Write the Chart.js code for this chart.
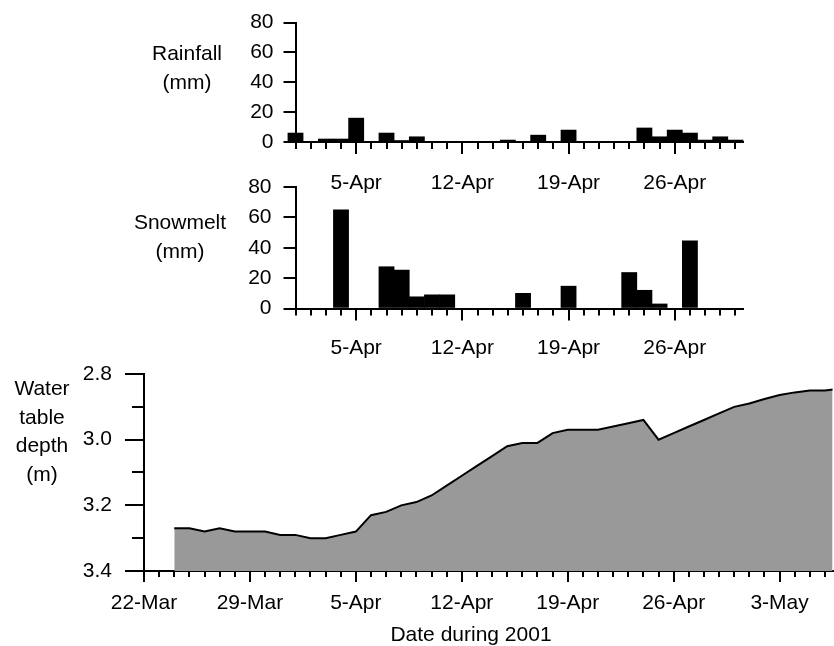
<!DOCTYPE html>
<html>
<head>
<meta charset="utf-8">
<title>Rainfall, snowmelt and water table depth</title>
<script src="https://cdn.jsdelivr.net/npm/chart.js@4.4.1/dist/chart.umd.min.js"></script>
<style>
  html, body { margin: 0; padding: 0; background: #fff; }
  #figure {
    position: relative;
    width: 834px;
    height: 646px;
    overflow: hidden;
    font-family: 'Liberation Sans', Arial, sans-serif;
    font-size: 21px;
    color: #000;
  }
  #figure canvas { position: absolute; left: 0; top: 0; }
  .axis-title {
    position: absolute;
    width: 140px;
    text-align: center;
    line-height: 28.6px;
    white-space: nowrap;
  }
</style>
</head>
<body>
<div id="figure">
  <canvas id="rainCanvas" width="834" height="646"></canvas>
  <canvas id="snowCanvas" width="834" height="646"></canvas>
  <canvas id="depthCanvas" width="834" height="646"></canvas>
  <div class="axis-title" style="left:117px; top:39px">Rainfall<br>(mm)</div>
  <div class="axis-title" style="left:110px; top:208px">Snowmelt<br>(mm)</div>
  <div class="axis-title" style="left:-28px; top:374px">Water<br>table<br>depth<br>(m)</div>
  <div class="axis-title" style="left:321px; top:620px; width:300px">Date during 2001</div>
</div>
<script>
// all days are counted from 22 March 2001 (22-Mar = 0, 1-Apr = 10)

// x-axis labels
const labelDays = [0, 7, 14, 21, 28, 35, 42];
const dateLabels = ['22-Mar', '29-Mar', '5-Apr', '12-Apr', '19-Apr', '26-Apr', '3-May'];

// daily totals 1-Apr .. 30-Apr
const precipDays = [10, 11, 12, 13, 14, 15, 16, 17, 18, 19,
                    20, 21, 22, 23, 24, 25, 26, 27, 28, 29,
                    30, 31, 32, 33, 34, 35, 36, 37, 38, 39];
const rainfall = [6, 0, 2, 2, 16, 0, 6, 1, 3.5, 0,
                  0, 0, 0, 0, 1.3, 0, 4.6, 0, 8, 0,
                  0, 0, 0, 9.4, 3.5, 8, 6, 1.3, 3.5, 1.3];
const snowmelt = [0, 0, 0, 65, 0, 0, 27.5, 25.3, 7.7, 9,
                  9, 0, 0, 0, 0, 10, 0, 0, 14.7, 0,
                  0, 0, 23.7, 12, 3, 0, 44.6, 0, 0, 0];

// water table depth (m), 24-Mar .. 7-May
const depthDays = [2, 3, 4, 5, 6, 7, 8, 9, 10, 11, 12, 13, 14, 15, 16,
                   17, 18, 19, 20, 21, 22, 23, 24, 25, 26, 27, 28, 29, 30, 31,
                   32, 33, 34, 35, 36, 37, 38, 39, 40, 41, 42, 43, 44, 45, 46];
const waterDepth = [3.27, 3.27, 3.28, 3.27, 3.28, 3.28, 3.28, 3.29, 3.29, 3.30, 3.30, 3.29, 3.28, 3.23, 3.22,
                    3.20, 3.19, 3.17, 3.14, 3.11, 3.08, 3.05, 3.02, 3.01, 3.01, 2.98, 2.97, 2.97, 2.97, 2.96,
                    2.95, 2.94, 3.00, 2.98, 2.96, 2.94, 2.92, 2.90, 2.89, 2.876, 2.864, 2.856, 2.85, 2.85, 2.845];

const PAGE_W = 834;
const PAGE_H = 646;
const X_AXIS_H = 60;

Chart.defaults.font.family = "'Liberation Sans', Arial, sans-serif";
Chart.defaults.font.size = 21;
Chart.defaults.color = '#000';

function dayLabel(value) {
  const i = labelDays.indexOf(value);
  return i >= 0 ? dateLabels[i] : '';
}

// hide the native mark of unlabelled ticks, the plugin below draws them shorter
const tickColor = (c) => (c.tick && c.tick.label === '' ? 'rgba(0,0,0,0)' : '#000');

// short tick marks for unlabelled ticks
const minorTicks = {
  id: 'minorTicks',
  afterDraw(chart) {
    const ctx = chart.ctx;
    ctx.save();
    ctx.strokeStyle = '#000';
    ctx.lineWidth = 2;
    Object.values(chart.scales).forEach(scale => {
      const len = scale.options.minorTickLength;
      if (!len) return;
      scale.ticks.forEach(tick => {
        if (tick.label !== '') return;
        const p = Math.round(scale.getPixelForValue(tick.value));
        ctx.beginPath();
        if (scale.isHorizontal()) {
          ctx.moveTo(p, scale.top);
          ctx.lineTo(p, scale.top + len);
        } else {
          ctx.moveTo(scale.right, p);
          ctx.lineTo(scale.right - len, p);
        }
        ctx.stroke();
      });
    });
    ctx.restore();
  }
};

function axisGrid(tickLength) {
  return { drawOnChartArea: false, offset: false, tickLength: tickLength, tickWidth: 2, lineWidth: 2, tickColor: tickColor };
}
const axisBorder = { display: true, color: '#000', width: 2 };

function barPanel(canvasId, values, box, labelPad, yLabelPad) {
  return new Chart(document.getElementById(canvasId), {
    type: 'bar',
    data: {
      datasets: [{
        data: precipDays.map((d, i) => ({ x: d, y: values[i] })),
        backgroundColor: '#000',
        borderWidth: 0,
        barPercentage: 1,
        categoryPercentage: 1,
        clip: false
      }]
    },
    options: {
      responsive: false,
      animation: false,
      events: [],
      layout: {
        padding: { left: 0, top: box.top, right: PAGE_W - box.right, bottom: PAGE_H - box.bottom - X_AXIS_H }
      },
      plugins: { legend: { display: false }, tooltip: { enabled: false } },
      scales: {
        x: {
          type: 'linear',
          min: precipDays[0],
          max: precipDays[precipDays.length - 1] + 0.5,
          offset: false,
          minorTickLength: 7,
          grid: axisGrid(12),
          border: axisBorder,
          ticks: {
            stepSize: 1,
            autoSkip: false,
            maxRotation: 0,
            includeBounds: false,
            padding: labelPad,
            callback: (v) => dayLabel(v)
          },
          afterFit: (s) => { s.height = X_AXIS_H; }
        },
        y: {
          min: 0,
          max: 80,
          grid: axisGrid(12),
          border: axisBorder,
          ticks: { stepSize: 20, padding: yLabelPad },
          afterFit: (s) => { s.width = box.left; }
        }
      }
    },
    plugins: [minorTicks]
  });
}

barPanel('rainCanvas', rainfall, { left: 295.5, right: 743, top: 20, bottom: 142 }, 17, 10);
barPanel('snowCanvas', snowmelt, { left: 295.5, right: 743, top: 187, bottom: 308.5 }, 15, 12);

// water table depth, reversed axis, shaded down to 3.4 m
const depthMin = 2.8;
const depthMax = 3.4;
const depthBox = { left: 144, right: 834, top: 374, bottom: 571 };

new Chart(document.getElementById('depthCanvas'), {
  type: 'line',
  data: {
    datasets: [{
      data: depthDays.map((d, i) => ({ x: d, y: waterDepth[i] })),
      borderColor: '#000',
      borderWidth: 2,
      backgroundColor: '#999999',
      fill: { value: depthMax },
      pointRadius: 0,
      tension: 0
    }]
  },
  options: {
    responsive: false,
    animation: false,
    events: [],
    layout: {
      padding: { left: 0, top: depthBox.top, right: PAGE_W - depthBox.right, bottom: PAGE_H - depthBox.bottom - X_AXIS_H }
    },
    plugins: { legend: { display: false }, tooltip: { enabled: false } },
    scales: {
      x: {
        type: 'linear',
        min: 0,
        max: 45.5,
        offset: false,
        minorTickLength: 6,
        grid: axisGrid(11),
        border: axisBorder,
        ticks: {
          stepSize: 1,
          autoSkip: false,
          maxRotation: 0,
          includeBounds: false,
          padding: 9,
          callback: (v) => dayLabel(v)
        },
        afterFit: (s) => { s.height = X_AXIS_H; }
      },
      y: {
        reverse: true,
        min: depthMin,
        max: depthMax,
        minorTickLength: 12,
        grid: axisGrid(19),
        border: axisBorder,
        ticks: {
          stepSize: 0.1,
          padding: 13,
          callback: (v) => (Math.round(v * 10) % 2 === 0 ? v.toFixed(1) : '')
        },
        afterFit: (s) => { s.width = depthBox.left; }
      }
    }
  },
  plugins: [minorTicks]
});
</script>
</body>
</html>
